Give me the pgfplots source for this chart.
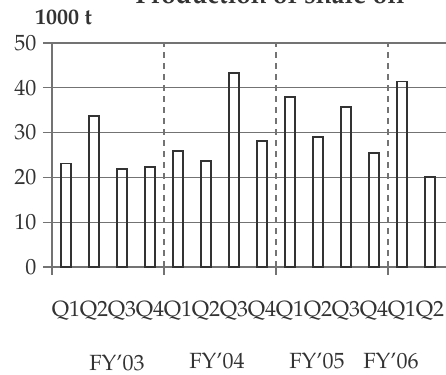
\documentclass[border=0pt]{standalone}
\usepackage{fontspec}
\setmainfont{TeX Gyre Pagella}
\usepackage{pgfplots}
\pgfplotsset{compat=1.18}
\begin{document}
\begin{tikzpicture}
\begin{axis}[
  at={(0,0)}, anchor=south west,
  scale only axis, width=394pt, height=224pt,
  xmin=0, xmax=14.07, ymin=0, ymax=50,
  ytick={0,10,20,30,40,50},
  ymajorgrids, grid style={draw=black!55, line width=1.1pt},
  axis line style={draw=none},
  tick align=outside, major tick length=9pt,
  ytick style={draw=black!55, line width=1.1pt},
  xtick={0.5,1.5,...,13.5},
  xticklabels={Q1,Q2,Q3,Q4,Q1,Q2,Q3,Q4,Q1,Q2,Q3,Q4,Q1,Q2},
  xtick style={draw=none},
  tick label style={font=\fontsize{22}{24}\selectfont, text=black!80},
  xticklabel style={anchor=base, yshift=-40pt},
  yticklabel style={xshift=-3pt},
  /pgf/number format/assume math mode=true,
  clip=false,
  ybar, bar width=10.3pt,
]
\addplot[draw=black!80, fill=none, line width=1.9pt] coordinates {
(0.5,23.1) (1.5,33.8) (2.5,21.9) (3.5,22.3)
(4.5,25.8) (5.5,23.6) (6.5,43.3) (7.5,28.1)
(8.5,37.9) (9.5,29.0) (10.5,35.7) (11.5,25.4)
(12.5,41.4) (13.5,20.1)};
\draw[black!55, line width=1.1pt] (axis cs:0,50) -- (axis cs:0,0) -- ++(0,-8pt);
\draw[black!55, line width=1.1pt, dash pattern=on 6pt off 5pt] (axis cs:4,0) -- (axis cs:4,50);
\draw[black!55, line width=1.1pt] (axis cs:4,0) -- ++(0,-8pt);
\draw[black!55, line width=1.1pt, dash pattern=on 6pt off 5pt] (axis cs:8,0) -- (axis cs:8,50);
\draw[black!55, line width=1.1pt] (axis cs:8,0) -- ++(0,-8pt);
\draw[black!55, line width=1.1pt, dash pattern=on 6pt off 5pt] (axis cs:12,0) -- (axis cs:12,50);
\draw[black!55, line width=1.1pt] (axis cs:12,0) -- ++(0,-8pt);
\end{axis}
\begin{scope}[every node/.style={text=black!80, inner sep=0pt}]
\node[anchor=base, font=\fontsize{26}{28}\selectfont\bfseries] at (218pt,263pt) {Production of shale oil};
\node[anchor=base west, font=\fontsize{22}{24}\selectfont\bfseries] at (-17pt,242pt) {1000 t};
\node[anchor=base, font=\fontsize{22}{24}\selectfont] at (65pt,-103pt) {FY'03};
\node[anchor=base, font=\fontsize{22}{24}\selectfont] at (165pt,-101pt) {FY'04};
\node[anchor=base, font=\fontsize{22}{24}\selectfont] at (265pt,-101pt) {FY'05};
\node[anchor=base, font=\fontsize{22}{24}\selectfont] at (339pt,-101pt) {FY'06};
\end{scope}
\pgfresetboundingbox
\useasboundingbox (-52pt,-107pt) rectangle (394pt,267pt);
\end{tikzpicture}
\end{document}
